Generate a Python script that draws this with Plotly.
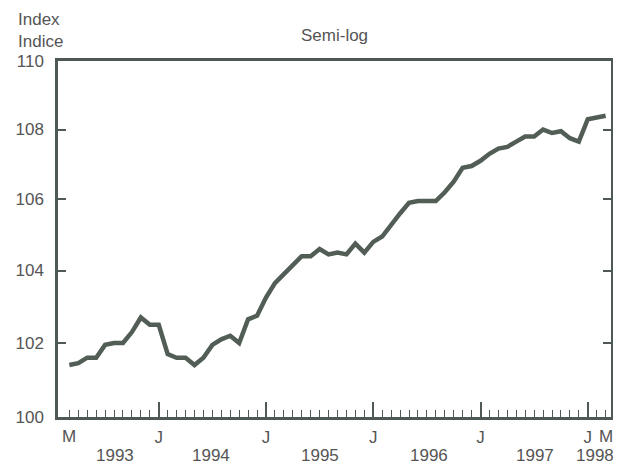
import plotly.graph_objects as go

# Monthly index, March 1993 .. March 1998 (semi-log scale)
months = list(range(61))  # 0 = Mar 1993
index_values = [
    101.4, 101.45, 101.6, 101.6, 101.95, 102.0, 102.0, 102.3, 102.7, 102.5,
    102.5, 101.7, 101.6, 101.6, 101.4, 101.6, 101.95, 102.1, 102.2, 102.0,
    102.65, 102.75, 103.25, 103.65, 103.9, 104.15, 104.4, 104.4, 104.6, 104.45,
    104.5, 104.45, 104.75, 104.5, 104.8, 104.95, 105.3, 105.6, 105.9, 105.95,
    105.95, 105.95, 106.2, 106.5, 106.9, 106.95, 107.1, 107.3, 107.45, 107.5,
    107.65, 107.8, 107.8, 108.0, 107.9, 107.95, 107.75, 107.65, 108.3, 108.35,
    108.4,
]
january_pos = [10, 22, 34, 46, 58]
january_text = ["J", "J", "J", "J", "J"]
march_pos = [0, 60]
march_text = ["M", "M"]
year_pos = [5.1, 15.9, 28.0, 40.2, 52.1, 58.8]
year_text = ["1993", "1994", "1995", "1996", "1997", "1998"]
y_ticks = [100, 102, 104, 106, 108, 110]

ink = "#4f5953"
text_col = "#555555"
font = "Liberation Sans, Arial, sans-serif"
fs = 17

fig = go.Figure()
fig.add_trace(go.Scatter(
    x=months, y=index_values, mode="lines",
    line=dict(color="#525d56", width=4.5),
    showlegend=False, hoverinfo="skip"))

# the page body has an 8px margin, so the figure is sized/offset to fit the window
fig.update_layout(
    width=613, height=458,
    margin=dict(l=47, r=7, t=53, b=49),
    paper_bgcolor="white", plot_bgcolor="white",
    font=dict(family=font, size=fs, color=text_col),
    xaxis=dict(
        range=[-1.27, 60.6], showgrid=False, zeroline=False,
        showline=True, linecolor=ink, linewidth=2.5, mirror=True,
        ticks="inside", ticklen=15, tickwidth=1.5, tickcolor=ink,
        tickmode="array", tickvals=january_pos, ticktext=january_text,
        ticklabelstandoff=3,
        tickfont=dict(size=fs, color=text_col),
        minor=dict(ticks="inside", ticklen=7, tickwidth=1.3, tickcolor=ink,
                   tickmode="array", tickvals=months, showgrid=False),
    ),
    yaxis=dict(
        type="log", range=[2, 2.0413927], showgrid=False, zeroline=False,
        showline=True, linecolor=ink, linewidth=2.5, mirror="ticks",
        ticks="inside", ticklen=8, tickwidth=1.5, tickcolor=ink,
        tickmode="array", tickvals=y_ticks, ticktext=[str(v) for v in y_ticks],
        ticklabelstandoff=8,
        tickfont=dict(size=fs, color=text_col),
    ),
)

for pos, txt in zip(march_pos, march_text):
    fig.add_annotation(x=pos, y=0, xref="x", yref="paper", text=txt,
                       showarrow=False, yanchor="top", yshift=-8,
                       font=dict(size=fs, color=text_col))
for pos, txt in zip(year_pos, year_text):
    fig.add_annotation(x=pos, y=0, xref="x", yref="paper", text=txt,
                       showarrow=False, yanchor="top", yshift=-27,
                       font=dict(size=fs, color=text_col))

fig.add_annotation(text="Index<br>Indice", x=-0.0751, y=1, xref="paper", yref="paper",
                   showarrow=False, align="left", xanchor="left", yanchor="bottom",
                   yshift=8, font=dict(size=fs, color=text_col))
fig.add_annotation(text="Semi-log", x=0.5, y=1, xref="paper", yref="paper",
                   showarrow=False, yanchor="bottom", yshift=14,
                   font=dict(size=fs, color=text_col))

fig.write_html("out.html")
